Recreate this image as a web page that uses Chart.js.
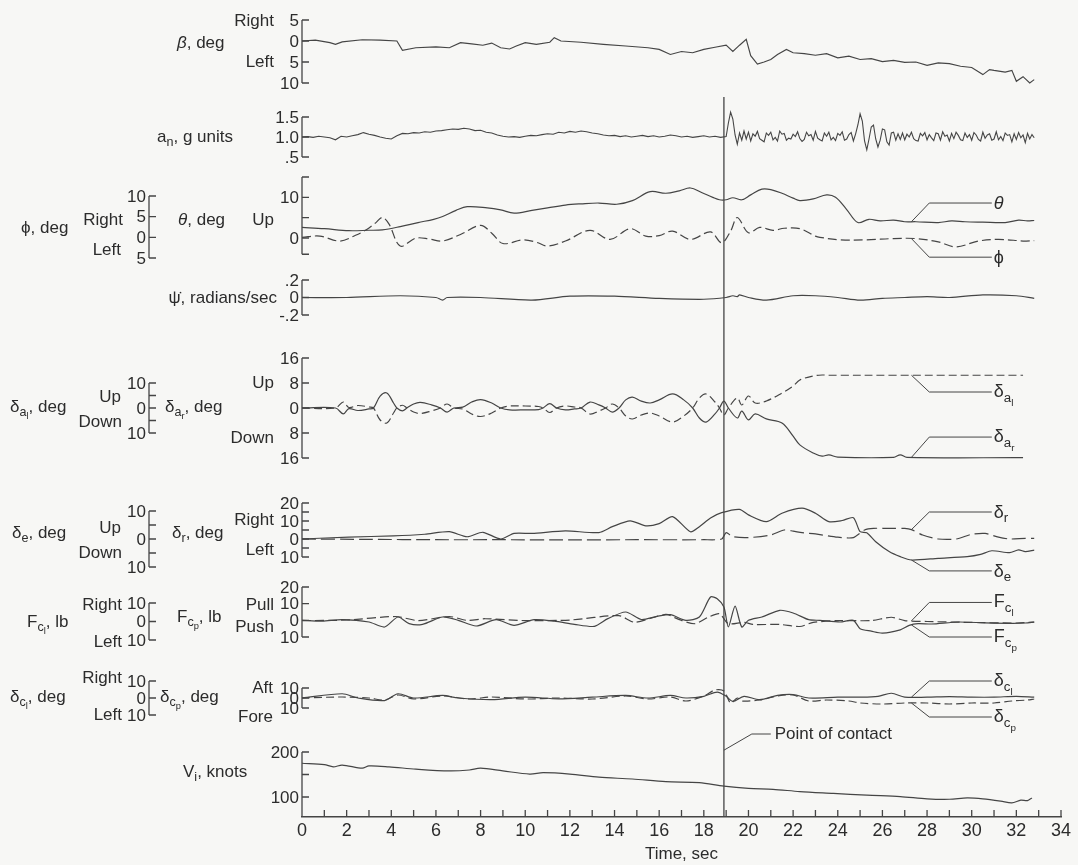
<!DOCTYPE html>
<html>
<head>
<meta charset="utf-8">
<script src="https://cdn.jsdelivr.net/npm/chart.js@4.4.1/dist/chart.umd.min.js"></script>
<style>
html, body { margin: 0; padding: 0; background: #f7f7f5; }
#wrap { position: relative; width: 1078px; height: 865px; }
#labels div {
    position: absolute; white-space: nowrap; line-height: 1;
    font: 17px "Liberation Sans", Arial, sans-serif; color: #2c2c2c;
    transform: translateY(-50%);
}
#labels sub { font-size: 0.74em; vertical-align: -0.35em; line-height: 0; }
</style>
</head>
<body>
<div id="wrap">
    <canvas id="chart" width="1078" height="865"></canvas>
    <div id="labels"></div>
</div>
<script>
// ---- time histories (time in sec) ----
var betaT = [0, 0.6, 1.25, 1.5, 1.8, 2.7, 3.5, 4.25, 4.5, 5.1, 6.0, 6.6, 7.1, 7.6, 8.1, 8.5, 8.9, 9.3, 9.6, 10.0, 10.5, 11.1, 11.3, 11.6, 12.5, 13.5, 14.5, 15.5, 16.0, 16.5, 17.0, 17.5, 18.0, 18.5, 19.0, 19.3, 19.6, 19.9, 20.1, 20.4, 20.7, 21.0, 21.3, 21.7, 22.0, 22.5, 23.0, 23.5, 24.0, 24.5, 25.0, 25.5, 26.0, 26.5, 27.0, 27.5, 28.0, 28.5, 29.0, 29.5, 30.0, 30.5, 30.8, 31.0, 31.5, 31.8, 32.0, 32.3, 32.6, 32.8];
var betaV = [0, 0.2, -0.4, -0.8, -0.2, 0.3, 0.2, 0, -2.2, -1.6, -1.4, -1.6, -0.4, -0.7, -1.0, -0.5, -1.6, -1.9, -1.2, -0.4, -0.8, -0.3, 0.8, 0, -0.3, -0.8, -1.2, -1.6, -2.0, -3.2, -2.5, -2.8, -2.0, -1.5, -1.0, -2.5, -1.0, 0.4, -3.5, -5.5, -5.0, -4.4, -3.2, -2.0, -2.8, -3.0, -3.4, -3.0, -4.0, -3.6, -4.4, -4.2, -4.9, -4.6, -5.1, -5.0, -5.8, -5.2, -5.4, -6.0, -6.3, -8.0, -6.8, -7.0, -7.4, -7.0, -9.6, -8.5, -10.0, -9.2];

// normal acceleration: every 0.25 sec before contact, every 0.1 sec from 19.1 sec on
var anBefore = [1.00, 1.01, 0.99, 1.02, 1.00, 0.98, 0.93, 1.02, 1.00, 1.03, 1.06, 1.11, 1.07, 1.04, 1.00, 0.97, 0.95, 1.03, 1.09, 1.08, 1.11, 1.10, 1.13, 1.12, 1.15, 1.16, 1.18, 1.20, 1.19, 1.22, 1.20, 1.16, 1.17, 1.12, 1.10, 1.05, 1.02, 1.00, 1.01, 0.99, 1.02, 1.04, 1.03, 1.06, 1.08, 1.07, 1.12, 1.10, 1.14, 1.12, 1.15, 1.13, 1.10, 1.08, 1.05, 1.03, 1.04, 1.01, 1.03, 1.00, 1.02, 1.04, 1.01, 1.03, 1.00, 1.02, 1.05, 1.03, 1.00, 1.02, 0.99, 1.01, 1.03, 1.00, 1.02, 0.99, 1.01];
var anAfter = [1.35, 1.62, 1.45, 1.05, 0.82, 1.10, 0.92, 1.15, 0.95, 1.12,
    0.90, 1.08, 1.02, 1.14, 0.96, 0.92, 0.88, 1.10, 1.04, 1.12,
    0.93, 0.99, 0.90, 1.15, 1.07, 1.09, 0.92, 0.97, 0.95, 1.07,
    1.01, 1.13, 0.96, 0.89, 0.94, 1.12, 1.03, 1.06, 0.92, 1.14,
    0.97, 0.93, 0.90, 1.10, 1.02, 1.12, 0.93, 0.99, 0.91, 1.09,
    1.04, 1.13, 0.92, 0.95, 1.06, 1.11, 0.90, 1.08, 1.30, 1.58,
    1.40, 0.90, 0.68, 0.95, 1.25, 1.30, 0.95, 0.75, 0.92, 1.20,
    1.18, 0.88, 0.80, 1.10, 1.12, 0.92, 1.08, 0.94, 1.10, 0.93,
    1.07, 1.00, 1.12, 0.96, 0.91, 0.90, 1.09, 1.03, 1.11, 0.93,
    1.06, 0.98, 0.91, 1.10, 1.08, 0.92, 1.13, 1.02, 1.05, 0.90,
    1.09, 0.96, 1.12, 1.04, 0.93, 0.91, 1.10, 0.99, 1.06, 0.92,
    1.11, 1.05, 0.94, 0.90, 1.12, 0.97, 1.05, 1.08, 0.92, 0.95,
    1.13, 0.93, 1.01, 0.91, 1.10, 1.04, 1.06, 0.88, 1.08, 0.94,
    1.11, 0.98, 1.05, 0.86, 1.09, 0.95, 1.06, 0.98];
var anStepBefore = 0.25, anStartAfter = 19.1, anStepAfter = 0.1;

var thetaT = [0, 1, 2.1, 3.0, 3.6, 4.4, 5.2, 5.9, 6.3, 6.9, 7.4, 8.3, 8.9, 9.5, 10.3, 11.0, 11.8, 12.5, 13.3, 14.1, 14.8, 15.6, 16.3, 16.9, 17.4, 17.9, 18.4, 18.7, 19.0, 19.3, 19.7, 20.1, 20.6, 21.0, 21.5, 22.0, 22.3, 22.9, 23.5, 23.9, 24.4, 24.9, 25.4, 25.9, 26.5, 27.0, 27.5, 28.5, 29.1, 29.7, 30.5, 31.5, 32.1, 32.5, 32.8];
var thetaV = [2.6, 2.3, 1.8, 1.9, 2.0, 2.8, 3.8, 4.6, 5.3, 6.8, 7.7, 7.4, 6.9, 6.1, 6.8, 7.4, 8.1, 8.4, 8.6, 8.3, 9.2, 11.4, 11.0, 11.6, 12.3, 11.2, 10.0, 9.4, 9.4, 9.9, 9.4, 10.6, 12.0, 11.9, 11.0, 9.8, 9.2, 9.6, 10.6, 10.0, 7.0, 3.8, 4.6, 4.2, 4.4, 4.0, 4.0, 3.8, 4.2, 4.0, 3.9, 3.8, 4.4, 4.2, 4.3];

var phiT = [0, 0.8, 1.7, 2.4, 2.9, 3.3, 3.6, 3.9, 4.4, 5.1, 5.7, 6.3, 7.1, 8.0, 8.5, 9.0, 9.9, 10.5, 11.0, 11.8, 12.9, 13.8, 14.7, 15.4, 16.0, 16.6, 17.4, 18.3, 18.8, 19.2, 19.5, 20.0, 20.5, 21.1, 21.6, 22.3, 23.0, 23.2, 24.1, 25.3, 26.5, 27.5, 28.5, 29.3, 30.3, 31.2, 32.4, 32.8];
var phiV = [0.0, 0.3, -0.9, 0.5, 1.9, 3.5, 4.8, 3.2, -2.1, -0.2, -0.4, -0.9, 0.7, 2.9, 1.0, -1.5, -0.6, -1.2, -2.1, -0.9, 1.7, -0.5, 2.1, 0.3, 0.4, 1.5, -0.5, 1.3, -1.3, 1.5, 4.8, 1.1, 2.4, 1.7, 2.2, 2.1, 0.3, 0.0, -0.6, -0.6, -0.3, -0.3, -1.1, -2.3, -0.9, -0.5, -0.9, -0.8];

var psiT = [0, 2, 4.4, 6.0, 6.3, 6.5, 8, 10.3, 12, 14, 16, 18, 19, 19.3, 19.5, 19.6, 20, 20.8, 22, 23, 24, 25, 26, 27, 28, 29, 30.5, 32, 32.8];
var psiV = [0, 0, 0.02, 0, -0.03, 0, 0, -0.03, 0.015, 0.015, -0.01, -0.02, 0, 0.02, 0.01, 0.03, 0, -0.03, 0.02, 0.02, 0, -0.03, -0.01, 0, 0.01, 0, 0.03, 0.02, -0.01];

// ailerons (right solid, left dashed)
var aileronT = [0, 1.5, 1.85, 2.1, 2.5, 3.0, 3.2, 3.5, 3.8, 4.1, 4.25, 4.5, 4.7, 5.0, 5.3, 5.8, 6.2, 6.5, 6.8, 7.2, 7.6, 8.0, 8.5, 8.9, 9.3, 10.0, 10.6, 10.8, 11.1, 11.4, 11.8, 12.2, 12.5, 12.9, 13.3, 13.6, 13.9, 14.2, 14.5, 14.8, 15.2, 15.6, 16.0, 16.6, 17.1, 17.5, 17.8, 18.1, 18.5, 18.7, 18.9, 19.1, 19.5, 19.7, 20.0, 20.3, 20.8, 21.5, 22.0, 22.3, 22.9, 23.3, 23.6, 24.0, 26.5, 26.8, 27.1, 32.3];
var aileronR = [0, 0, -1.9, -0.2, -0.8, -0.3, 0, 3.8, 4.8, 1.6, 0, -0.9, 0, 1.3, 1.8, 1.0, 0, -1.3, 0, 0.3, 1.9, 2.7, 1.6, 0, -0.6, -0.6, -0.5, 0, 1.4, 0, -0.6, -0.3, 0, 1.9, 1.0, 0, -1.3, 0, 2.6, 3.5, 2.2, 1.6, 2.6, 4.5, 2.6, 0, -3.2, -4.5, -1.9, 0, 2.2, 0, -3.2, -1.0, -3.8, -1.9, -3.5, -4.8, -9.0, -11.8, -14.4, -15.4, -15.0, -15.7, -15.8, -15.0, -15.8, -15.9];
var aileronL = [0, 0, 2.4, 0.2, 1.0, 0.4, 0, -4.8, -6.0, -2.0, 0, 1.1, 0, -1.6, -2.2, -1.2, 0, 1.6, 0, -0.4, -2.4, -3.4, -2.0, 0, 0.8, 0.8, 0.6, 0, -1.8, 0, 0.8, 0.4, 0, -2.4, -1.2, 0, 1.6, 0, -3.2, -4.4, -2.8, -2.0, -3.2, -5.6, -3.2, 0, 4.0, 5.6, 2.4, 0, -2.8, 0, 4.0, 1.2, 4.8, 2.0, 2.8, 6.0, 8.8, 11.2, 12.8, 13.2, 13.1, 13.1, 13.1, 13.1, 13.1, 13.1];

var elevT = [0, 2.1, 4.1, 5.5, 6.6, 7.4, 8.1, 8.9, 9.5, 10.3, 11.8, 13.3, 13.9, 14.7, 15.4, 16.0, 16.6, 17.4, 17.8, 18.3, 18.8, 19.6, 20.0, 20.8, 21.5, 22.4, 23.0, 23.6, 24.2, 24.7, 25.0, 25.3, 25.7, 26.3, 26.8, 27.3, 28.5, 29.8, 30.4, 30.9, 31.7, 32.1, 32.4, 32.8];
var elevV = [0, 0.7, 1.1, 1.7, 2.6, 0.8, 2.4, 0, 2.0, 2.0, 2.9, 2.3, 4.4, 6.5, 4.7, 5.5, 8.0, 2.6, 4.4, 7.5, 9.4, 10.6, 8.6, 6.2, 9.2, 11.0, 9.2, 6.2, 6.6, 7.6, 2.6, 2.2, -1.0, -4.5, -6.3, -7.5, -6.9, -6.3, -5.5, -4.2, -4.9, -3.9, -4.5, -4.0];

var rudT = [0, 3, 6, 9, 12, 15, 18, 18.8, 19.0, 19.3, 20.0, 21.0, 21.6, 22.0, 22.4, 23.0, 24.0, 24.7, 25.2, 25.6, 26.5, 27.0, 27.3, 27.8, 28.5, 29.3, 30.0, 30.6, 31.2, 31.7, 32.4, 32.8];
var rudV = [0, -0.2, -0.4, -0.4, -0.5, -0.4, -0.4, 0, 3.5, 1.3, 0.8, 2.2, 5.0, 4.4, 3.5, 2.8, 1.0, 0.8, 5.0, 5.9, 5.9, 5.9, 5.2, 2.2, 0, 0, 2.6, 3.1, 1.0, 0, 0.4, 0.3];

var fcpT = [0, 0.9, 1.8, 3.0, 3.7, 4.3, 4.8, 5.4, 6.3, 7.0, 7.8, 8.7, 9.5, 10.4, 11.3, 12.2, 13.1, 13.7, 14.5, 15.2, 15.9, 16.5, 17.2, 17.8, 18.3, 18.6, 18.9, 19.1, 19.4, 19.7, 20.0, 20.6, 21.4, 22.0, 22.7, 23.2, 24.1, 24.7, 25.0, 25.5, 26.0, 26.8, 27.2, 27.6, 28.2, 29.4, 30.6, 31.8, 32.4, 32.8];
var fcpV = [0, -0.5, 0.4, -1, -4, 2, -2, -2.4, 2, 0, -3.4, 0.4, -3, 0.4, -0.5, -2.4, -3.6, 1, 5, 0.5, 2.4, 3.4, 0, 2, 14, 13, 8, -4, 8.5, -4, 0, 2, 6, 4.4, 0.4, 0, -1, 0, -5, -6.5, -7.7, -5.7, -3, -2, -2.2, -1, -1.5, -1.8, -1.6, -1.0];

var fclT = [0, 2, 4.2, 5.2, 6.6, 7.4, 8.2, 10, 12, 14.2, 14.9, 16.3, 16.9, 17.6, 18.2, 18.7, 19.1, 19.8, 20.2, 21.4, 22.3, 22.9, 24, 25.5, 26.4, 27.0, 28, 30, 32, 32.8];
var fclV = [0.5, 0.8, 2.7, 0.5, 2.7, 0.6, 1.5, 0.5, 0.8, 3.2, -0.4, 3.8, 1.0, -1.2, 2.3, 4.2, -1.2, -0.4, -1.6, -1.6, -2.7, -0.5, 0.5, 0.5, 2.3, 0.5, 0, -0.5, -0.8, -0.3];

var dcpT = [0, 1.8, 3.0, 3.7, 4.3, 5.0, 6.3, 7.5, 8.5, 10, 11.5, 13, 14.5, 15.5, 16.5, 17.2, 18.0, 18.5, 18.9, 19.2, 19.5, 19.7, 20.5, 21.3, 22.0, 22.7, 23.5, 24.5, 25.0, 26, 27, 28, 29, 30, 31, 31.8, 32.5, 32.8];
var dcpV = [0, 1, 0, -2, 3, -1, 2, -1, 1, -1, 0, -1, 2, -1, 1, -3, 2, 8, 7, -5, 0, -3, -2, 2, 3, -3, -2, -3, -5, -6, -5, -5, -6, -5, -5, -3, -2, -1];

var dclT = [0, 1.8, 2.5, 3.7, 4.3, 5, 6.3, 7, 8.5, 10, 11.5, 13, 14.5, 15.5, 16.5, 17.2, 18, 18.6, 19.0, 19.3, 19.8, 20.5, 21.3, 22.0, 22.7, 24, 25, 25.8, 26.4, 27, 28, 29, 30, 31, 32, 32.8];
var dclV = [0, 2.5, 0, -1.5, 2.5, 0, 1.5, 0, -1, 0.5, -0.5, 0.5, 1.5, 0, 1.5, 0, 1, 3.5, 1, -2, 1, -1, 1.5, 2, 0, 0.5, 0.5, 1, 2.8, 0.5, 0.5, 0.8, 0.5, 0.5, 1, 0.5];

var speedT = [0, 1.0, 1.4, 1.8, 2.7, 3.0, 3.9, 5.1, 6.6, 7.5, 8.0, 9.0, 10.2, 10.8, 12.0, 13.3, 14.8, 16.3, 17.8, 18.9, 20.0, 21.1, 22.3, 23.8, 25.3, 26.8, 28.0, 29.0, 29.8, 30.5, 31.3, 31.8, 32.2, 32.5, 32.7];
var speedV = [175, 172, 167, 171, 164, 169, 167, 162, 158, 160, 164, 158, 151, 154, 151, 144, 140, 134, 132, 124, 119, 117, 112, 108, 104, 101, 96, 95, 98, 96, 91, 87, 93, 92, 98];

var contactTime = 18.9;
var timeTicks = [0, 2, 4, 6, 8, 10, 12, 14, 16, 18, 20, 22, 24, 26, 28, 30, 32, 34];

// ---- layout ----
var ink = '#454545';
var textInk = '#2c2c2c';
var family = '"Liberation Sans", Arial, sans-serif';
var AREA_TOP = 10, AREA_BOTTOM = 817;
var OUTER_AXIS_X = 149;

// each y axis: [value, pixel] at its top and bottom tick
var axisDefs = [
    { id: 'yBeta', top: [5, 20], bot: [-10, 83], ticks: [5, 0, -5, -10], labels: ['5', '0', '5', '10'] },
    { id: 'yAn', top: [1.5, 117], bot: [0.5, 157], ticks: [1.5, 1.0, 0.5], labels: ['1.5', '1.0', '.5'] },
    { id: 'yTheta', top: [15, 177], bot: [0, 238], ticks: [15, 10, 5, 0, -4], labels: ['', '10', '', '0', ''] },
    { id: 'yPhi', outer: true, top: [10, 196], bot: [-5, 258], ticks: [10, 5, 0, -5], labels: ['10', '5', '0', '5'] },
    { id: 'yPsi', top: [0.2, 280], bot: [-0.2, 315], ticks: [0.2, 0, -0.2], labels: ['.2', '0', '-.2'] },
    { id: 'yDaR', top: [16, 358], bot: [-16, 458], ticks: [16, 8, 0, -8, -16], labels: ['16', '8', '0', '8', '16'] },
    { id: 'yDaL', outer: true, top: [10, 383], bot: [-10, 433], ticks: [10, 5, 0, -5, -10], labels: ['10', '', '0', '', '10'] },
    { id: 'yDr', top: [20, 503], bot: [-10, 557], ticks: [20, 15, 10, 5, 0, -5, -10], labels: ['20', '', '10', '', '0', '', '10'] },
    { id: 'yDe', outer: true, top: [10, 511], bot: [-10, 567], ticks: [10, 5, 0, -5, -10], labels: ['10', '', '0', '', '10'] },
    { id: 'yFcp', top: [20, 587], bot: [-10, 637], ticks: [20, 10, 0, -10], labels: ['20', '10', '0', '10'] },
    { id: 'yFcl', outer: true, top: [10, 603], bot: [-10, 640], ticks: [10, 0, -10], labels: ['10', '0', '10'] },
    { id: 'yDcp', top: [10, 688], bot: [-10, 708], ticks: [10, 0, -10], labels: ['10', '0', '10'] },
    { id: 'yDcl', outer: true, top: [10, 681], bot: [-10, 715], ticks: [10, 0, -10], labels: ['10', '0', '10'] },
    { id: 'yV', top: [200, 752], bot: [100, 797], ticks: [200, 150, 100], labels: ['200', '', '100'], toBottom: true }
];

var leftLabels = [
    ['Right', 274, 21, 'r'], ['<i>β</i>, deg', 177, 43, 'l'], ['Left', 274, 62, 'r'],
    ['a<sub>n</sub>, g units', 157, 137, 'l'],
    ['ϕ, deg', 21, 228, 'l'], ['Right', 123, 220, 'r'], ['Left', 121, 250, 'r'],
    ['<i>θ</i>, deg', 178, 220, 'l'], ['Up', 274, 220, 'r'],
    ['ψ̇, radians/sec', 277, 298, 'r'],
    ['δ<sub>a<sub>l</sub></sub>, deg', 10, 407, 'l'], ['Up', 121, 397, 'r'], ['Down', 122, 422, 'r'],
    ['δ<sub>a<sub>r</sub></sub>, deg', 165, 407, 'l'], ['Up', 274, 383, 'r'], ['Down', 274, 438, 'r'],
    ['δ<sub>e</sub>, deg', 12, 533, 'l'], ['Up', 121, 528, 'r'], ['Down', 122, 553, 'r'],
    ['δ<sub>r</sub>, deg', 172, 533, 'l'], ['Right', 274, 520, 'r'], ['Left', 274, 550, 'r'],
    ['F<sub>c<sub>l</sub></sub>, lb', 27, 622, 'l'], ['Right', 122, 605, 'r'], ['Left', 122, 642, 'r'],
    ['F<sub>c<sub>p</sub></sub>, lb', 177, 617, 'l'], ['Pull', 274, 605, 'r'], ['Push', 274, 627, 'r'],
    ['δ<sub>c<sub>l</sub></sub>, deg', 10, 697, 'l'], ['Right', 122, 678, 'r'], ['Left', 122, 715, 'r'],
    ['δ<sub>c<sub>p</sub></sub>, deg', 160, 697, 'l'], ['Aft', 273, 688, 'r'], ['Fore', 273, 717, 'r'],
    ['V<sub>i</sub>, knots', 183, 772, 'l']
];

// curve keys on the right: axis, series, level of the key in axis units, text
var leaderFrom = 27.3, leaderBend = 28.1, leaderTo = 30.9;
var keys = [
    ['yTheta', thetaT, thetaV, 8.6, '<i>θ</i>'],
    ['yPhi', phiT, phiV, -4.8, 'ϕ'],
    ['yDaL', aileronT, aileronL, 6.4, 'δ<sub>a<sub>l</sub></sub>'],
    ['yDaR', aileronT, aileronR, -9.3, 'δ<sub>a<sub>r</sub></sub>'],
    ['yDr', rudT, rudV, 15.0, 'δ<sub>r</sub>'],
    ['yDe', elevT, elevV, -11.4, 'δ<sub>e</sub>'],
    ['yFcl', fclT, fclV, 10.3, 'F<sub>c<sub>l</sub></sub>'],
    ['yFcp', fcpT, fcpV, -10.0, 'F<sub>c<sub>p</sub></sub>'],
    ['yDcl', dclT, dclV, 10, 'δ<sub>c<sub>l</sub></sub>'],
    ['yDcp', dcpT, dcpV, -19, 'δ<sub>c<sub>p</sub></sub>']
];

function pts(ts, vs) {
    return ts.map(function (t, i) { return { x: t, y: vs[i] }; });
}

function valueAt(ts, vs, t) {
    for (var i = 1; i < ts.length; i++) {
        if (ts[i] >= t) {
            var f = (t - ts[i - 1]) / (ts[i] - ts[i - 1]);
            return vs[i - 1] + f * (vs[i] - vs[i - 1]);
        }
    }
    return vs[vs.length - 1];
}

function line(axis, data, opts) {
    var ds = {
        data: data, yAxisID: axis, borderColor: ink, borderWidth: 1.2,
        pointRadius: 0, tension: 0.35, fill: false
    };
    for (var k in opts) ds[k] = opts[k];
    return ds;
}

var anTime = anBefore.map(function (v, i) { return i * anStepBefore; })
    .concat(anAfter.map(function (v, j) { return +(anStartAfter + j * anStepAfter).toFixed(2); }));
var anValues = anBefore.concat(anAfter);

var datasets = [
    line('yBeta', pts(betaT, betaV), { tension: 0, borderWidth: 1.15 }),
    line('yAn', pts(anTime, anValues), { tension: 0, borderWidth: 1.1 }),
    line('yTheta', pts(thetaT, thetaV), {}),
    line('yPhi', pts(phiT, phiV), { borderDash: [9, 4] }),
    line('yPsi', pts(psiT, psiV), { tension: 0.3 }),
    line('yDaR', pts(aileronT, aileronR), {}),
    line('yDaL', pts(aileronT, aileronL), { borderDash: [8, 4] }),
    line('yDe', pts(elevT, elevV), { tension: 0.25 }),
    line('yDr', pts(rudT, rudV), { borderDash: [14, 5], tension: 0.25 }),
    line('yFcp', pts(fcpT, fcpV), { tension: 0.25 }),
    line('yFcl', pts(fclT, fclV), { borderDash: [9, 4], tension: 0.25 }),
    line('yDcl', pts(dclT, dclV), { tension: 0.3 }),
    line('yDcp', pts(dcpT, dcpV), { borderDash: [8, 4], tension: 0.3 }),
    line('yV', pts(speedT, speedV), { tension: 0.3 })
];

keys.forEach(function (k) {
    var start = valueAt(k[1], k[2], leaderFrom);
    datasets.push(line(k[0], [{ x: leaderFrom, y: start }, { x: leaderBend, y: k[3] }, { x: leaderTo, y: k[3] }],
        { tension: 0, borderWidth: 1 }));
});

// "Point of contact" call-out, in knots on the airspeed axis
var contactKey = [{ x: contactTime, y: 204 }, { x: 20.15, y: 240 }, { x: 21.0, y: 240 }];
datasets.push(line('yV', contactKey, { tension: 0, borderWidth: 1 }));

var scales = {
    x: {
        type: 'linear', position: 'bottom', min: 0, max: 34,
        afterFit: function (s) { s.height = 865 - AREA_BOTTOM; },
        border: { display: true, color: ink, width: 1.4 },
        grid: { display: false, drawTicks: false },
        afterBuildTicks: function (s) { s.ticks = timeTicks.map(function (v) { return { value: v }; }); },
        ticks: { autoSkip: false, maxRotation: 0, padding: 3, color: textInk, font: { size: 18, family: family } },
        title: { display: true, text: 'Time, sec', color: textInk, font: { size: 17, family: family }, padding: { top: 0, bottom: 0 } }
    }
};
axisDefs.forEach(function (a) {
    var k = (a.bot[0] - a.top[0]) / (a.bot[1] - a.top[1]);
    scales[a.id] = {
        type: 'linear', display: false,
        max: a.top[0] + (AREA_TOP - a.top[1]) * k,
        min: a.top[0] + (AREA_BOTTOM - a.top[1]) * k
    };
});

var drawAxes = {
    id: 'drawAxes',
    afterDatasetsDraw: function (chart) {
        var ctx = chart.ctx, area = chart.chartArea, xs = chart.scales.x;
        ctx.save();
        ctx.strokeStyle = ink;
        ctx.fillStyle = textInk;
        ctx.lineWidth = 1.3;
        ctx.font = '17px ' + family;
        ctx.textAlign = 'right';
        ctx.textBaseline = 'middle';
        axisDefs.forEach(function (a) {
            var s = chart.scales[a.id];
            var x = a.outer ? OUTER_AXIS_X : area.left;
            var ys = a.ticks.map(function (v) { return s.getPixelForValue(v); });
            var yEnd = a.toBottom ? area.bottom : ys[ys.length - 1];
            ctx.beginPath();
            ctx.moveTo(x, ys[0]);
            ctx.lineTo(x, yEnd);
            ys.forEach(function (y) { ctx.moveTo(x, y); ctx.lineTo(x + 7, y); });
            ctx.stroke();
            ys.forEach(function (y, i) { ctx.fillText(a.labels[i], x - 3, y + 1); });
        });
        // time ticks point up into the plot
        ctx.beginPath();
        for (var t = 1; t <= 34; t++) {
            var tx = xs.getPixelForValue(t);
            ctx.moveTo(tx, area.bottom);
            ctx.lineTo(tx, area.bottom - 7);
        }
        // point of contact
        var cx = xs.getPixelForValue(contactTime);
        ctx.moveTo(cx, chart.scales.yAn.getPixelForValue(2.0));
        ctx.lineTo(cx, area.bottom);
        ctx.stroke();
        ctx.restore();
    }
};

var chart = new Chart(document.getElementById('chart'), {
    type: 'line',
    data: { datasets: datasets },
    options: {
        responsive: false,
        animation: false,
        layout: { padding: { top: AREA_TOP, left: 302, right: 17, bottom: 0 } },
        plugins: { legend: { display: false }, tooltip: { enabled: false } },
        scales: scales
    },
    plugins: [drawAxes]
});

// ---- text ----
var box = document.getElementById('labels');
function addLabel(html, x, y, anchor, size) {
    var d = document.createElement('div');
    d.innerHTML = html;
    d.style.top = y + 'px';
    if (anchor === 'r') d.style.right = (1078 - x) + 'px';
    else d.style.left = x + 'px';
    if (size) d.style.fontSize = size + 'px';
    box.appendChild(d);
}
leftLabels.forEach(function (l) { addLabel(l[0], l[1], l[2], l[3]); });

var xs = chart.scales.x;
keys.forEach(function (k) {
    addLabel(k[4], xs.getPixelForValue(leaderTo) + 2, chart.scales[k[0]].getPixelForValue(k[3]), 'l', 18);
});
addLabel('Point of contact', xs.getPixelForValue(21.0) + 4, chart.scales.yV.getPixelForValue(240), 'l', 17);
</script>
</body>
</html>
